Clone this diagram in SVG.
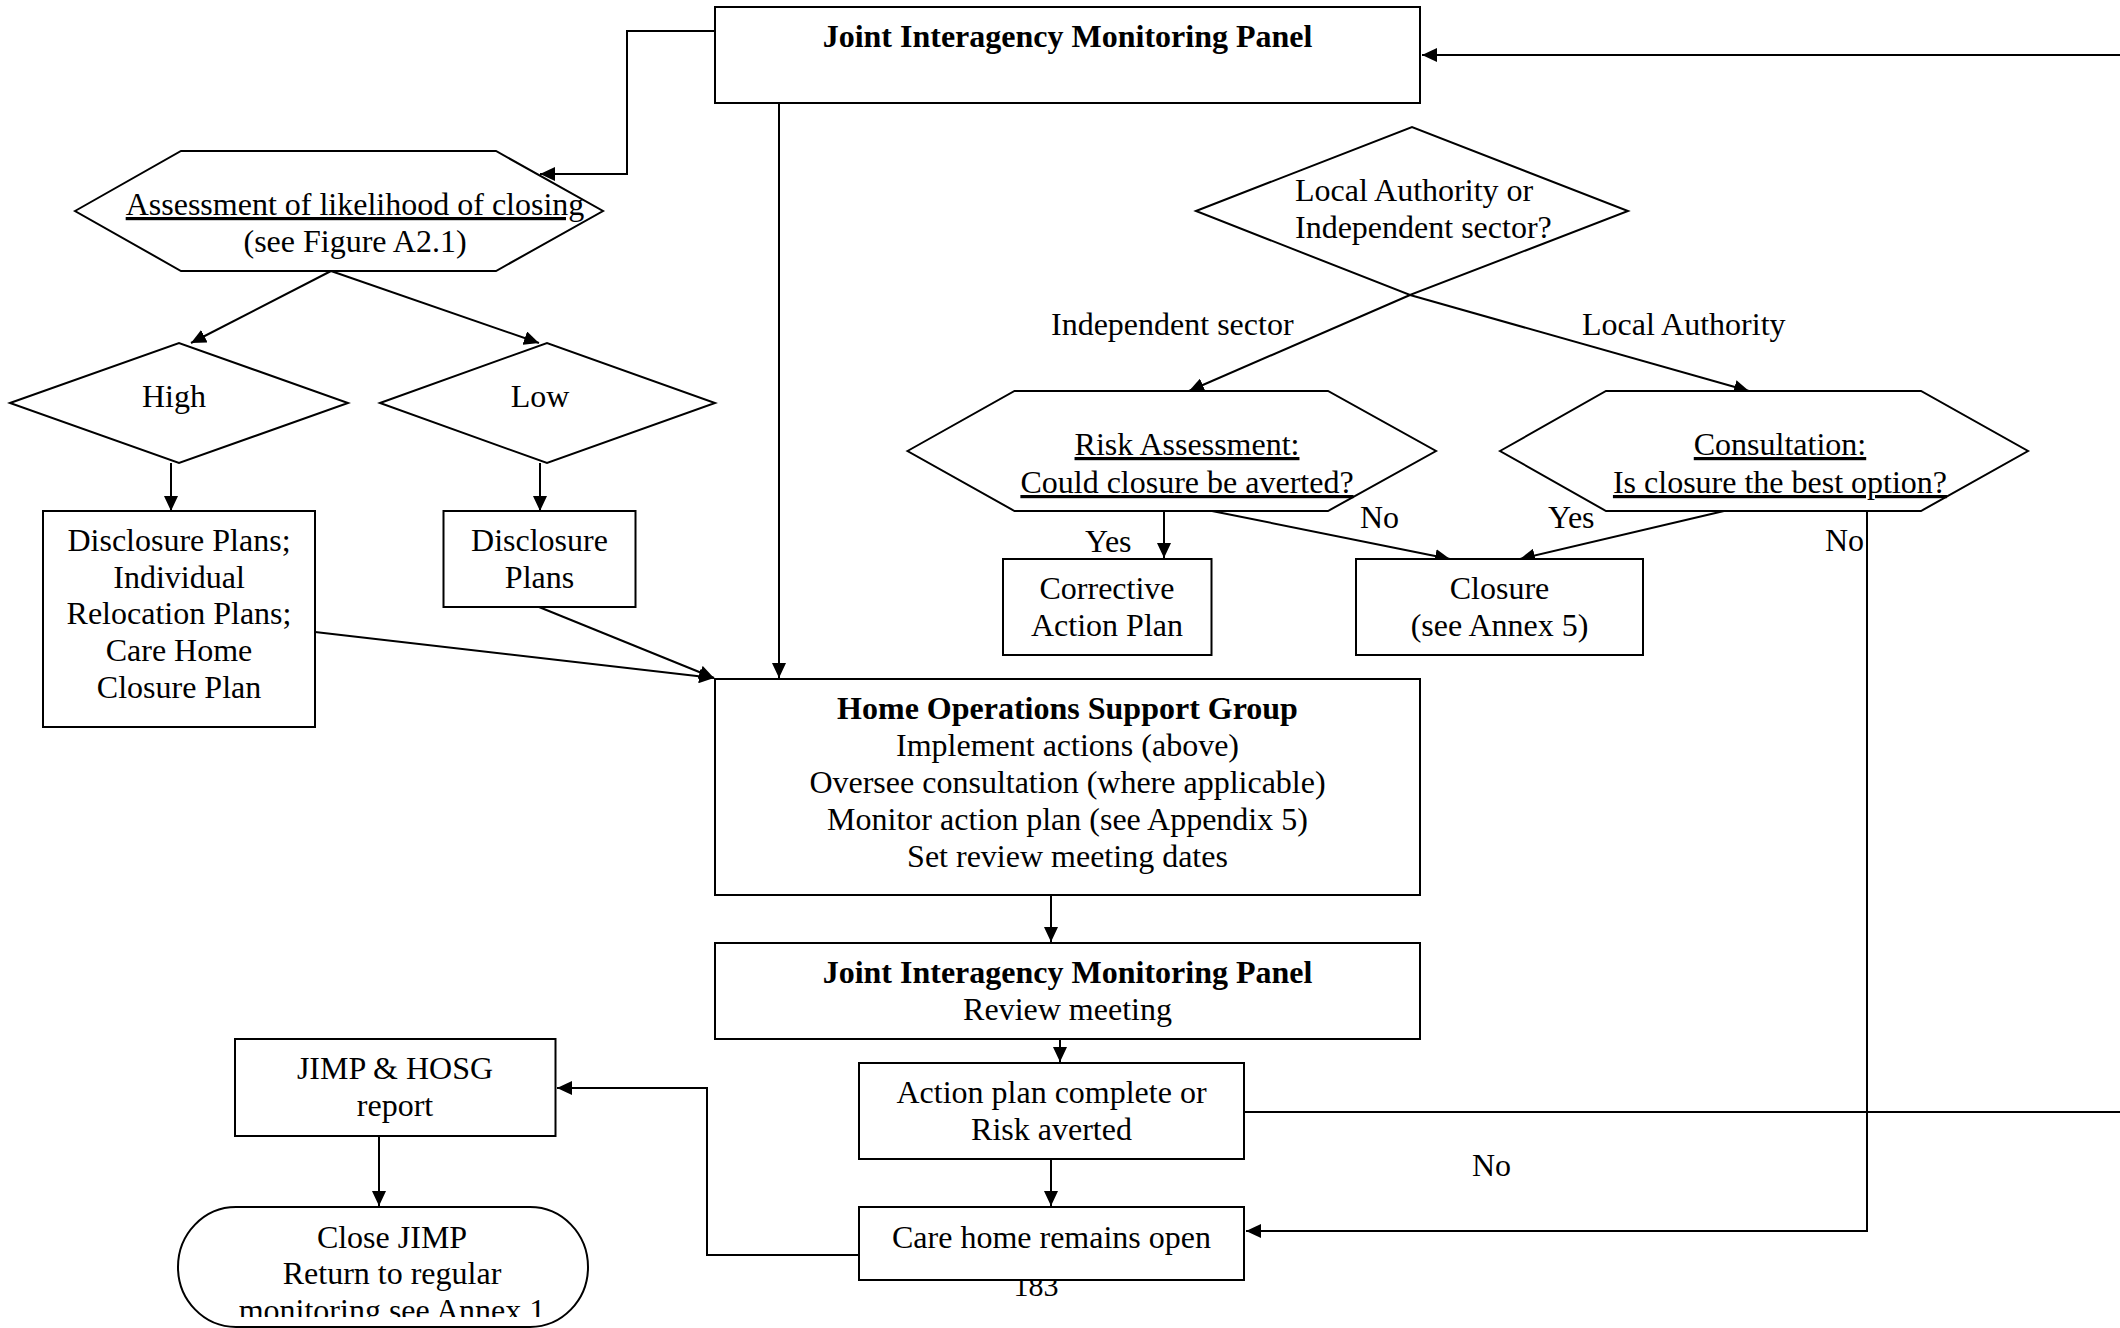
<svg xmlns="http://www.w3.org/2000/svg" width="2120" height="1328" viewBox="0 0 2120 1328">
  <style>
    text { font-family: "Liberation Serif", "Times New Roman", serif; font-size: 32px; fill: #000; }
    .c { text-anchor: middle; }
    .b { font-weight: bold; }
    .u { text-decoration: underline; }
    .shape { fill: #fff; stroke: #000; stroke-width: 2; }
    .link { fill: none; stroke: #000; stroke-width: 2; }
  </style>
  <defs>
    <marker id="arrow" markerUnits="userSpaceOnUse" markerWidth="16" markerHeight="14" refX="15" refY="7" orient="auto">
      <path d="M0,0 L15,7 L0,14 z" fill="#000"/>
    </marker>
    <clipPath id="terminal-clip">
      <rect x="170" y="1200" width="430" height="117"/>
    </clipPath>
  </defs>

  <rect width="2120" height="1328" fill="#fff"/>

  <!-- page number, partly hidden under the last box -->
  <text x="1036" y="1296" class="c" style="font-size:30px">183</text>

  <g id="connectors">
    <!-- loop back into the top panel from the right -->
    <path class="link" d="M2120,55 L1422,55" marker-end="url(#arrow)"/>
    <!-- top panel to likelihood assessment -->
    <path class="link" d="M715,31 L627,31 L627,174 L540,174" marker-end="url(#arrow)"/>
    <!-- top panel down to support group -->
    <path class="link" d="M779,103 L779,678" marker-end="url(#arrow)"/>
    <!-- assessment to High / Low -->
    <path class="link" d="M331,271 L191,343" marker-end="url(#arrow)"/>
    <path class="link" d="M331,271 L539,343" marker-end="url(#arrow)"/>
    <!-- High / Low to plans -->
    <path class="link" d="M171,463 L171,511" marker-end="url(#arrow)"/>
    <path class="link" d="M540,463 L540,511" marker-end="url(#arrow)"/>
    <!-- plans into support group -->
    <path class="link" d="M315,632 L714,678" marker-end="url(#arrow)"/>
    <path class="link" d="M539,607 L714,678" marker-end="url(#arrow)"/>
    <!-- sector decision -->
    <path class="link" d="M1410,295 L1189,391" marker-end="url(#arrow)"/>
    <path class="link" d="M1410,295 L1749,391" marker-end="url(#arrow)"/>
    <!-- risk assessment outcomes -->
    <path class="link" d="M1164,511 L1164,558" marker-end="url(#arrow)"/>
    <path class="link" d="M1212,511 L1450,559" marker-end="url(#arrow)"/>
    <!-- consultation outcomes -->
    <path class="link" d="M1724,511 L1520,559" marker-end="url(#arrow)"/>
    <path class="link" d="M1867,511 L1867,1231 L1246,1231" marker-end="url(#arrow)"/>
    <!-- support group to review meeting -->
    <path class="link" d="M1051,895 L1051,942" marker-end="url(#arrow)"/>
    <!-- review meeting to outcome -->
    <path class="link" d="M1060,1039 L1060,1062" marker-end="url(#arrow)"/>
    <!-- outcome: No, back round to the top -->
    <path class="link" d="M1244,1112 L2120,1112"/>
    <!-- outcome: yes, care home remains open -->
    <path class="link" d="M1051,1159 L1051,1206" marker-end="url(#arrow)"/>
    <!-- remains open to report -->
    <path class="link" d="M859,1255 L707,1255 L707,1088 L557,1088" marker-end="url(#arrow)"/>
    <!-- report to close -->
    <path class="link" d="M379,1136 L379,1206" marker-end="url(#arrow)"/>
  </g>

  <g id="jimp-top">
    <rect class="shape" x="715" y="7" width="705" height="96"/>
    <text x="1067.5" y="47" class="c b">Joint Interagency Monitoring Panel</text>
  </g>

  <g id="assessment">
    <polygon class="shape" points="75,211 181,151 496,151 603,211 496,271 181,271"/>
    <text x="355" y="215" class="c u">Assessment of likelihood of closing</text>
    <text x="355" y="252" class="c">(see Figure A2.1)</text>
  </g>

  <g id="high">
    <polygon class="shape" points="10,403 179,343 348,403 179,463"/>
    <text x="174" y="407" class="c">High</text>
  </g>

  <g id="low">
    <polygon class="shape" points="380,403 547,343 715,403 547,463"/>
    <text x="540" y="407" class="c">Low</text>
  </g>

  <g id="high-plans">
    <rect class="shape" x="43" y="511" width="272" height="216"/>
    <text x="179" y="551" class="c">Disclosure Plans;</text>
    <text x="179" y="588" class="c">Individual</text>
    <text x="179" y="624" class="c">Relocation Plans;</text>
    <text x="179" y="661" class="c">Care Home</text>
    <text x="179" y="698" class="c">Closure Plan</text>
  </g>

  <g id="low-plans">
    <rect class="shape" x="443.5" y="511" width="192" height="96"/>
    <text x="539.5" y="551" class="c">Disclosure</text>
    <text x="539.5" y="588" class="c">Plans</text>
  </g>

  <g id="sector">
    <polygon class="shape" points="1196,211 1412,127 1628,211 1410,295"/>
    <text x="1295" y="201">Local Authority or</text>
    <text x="1295" y="238">Independent sector?</text>
  </g>

  <g id="labels">
    <text x="1051" y="335">Independent sector</text>
    <text x="1582" y="335">Local Authority</text>
    <text x="1085" y="552">Yes</text>
    <text x="1360" y="528">No</text>
    <text x="1548" y="528">Yes</text>
    <text x="1825" y="551">No</text>
    <text x="1472" y="1176">No</text>
  </g>

  <g id="risk-assessment">
    <polygon class="shape" points="907.5,451 1014.5,391 1328,391 1436,451 1328,511 1014.5,511"/>
    <text x="1187" y="455" class="c u">Risk Assessment:</text>
    <text x="1187" y="493" class="c u">Could closure be averted?</text>
  </g>

  <g id="consultation">
    <polygon class="shape" points="1500,451 1606,391 1921,391 2028,451 1921,511 1606,511"/>
    <text x="1780" y="455" class="c u">Consultation:</text>
    <text x="1780" y="493" class="c u">Is closure the best option?</text>
  </g>

  <g id="corrective">
    <rect class="shape" x="1003" y="559" width="208.5" height="96"/>
    <text x="1107" y="599" class="c">Corrective</text>
    <text x="1107" y="636" class="c">Action Plan</text>
  </g>

  <g id="closure">
    <rect class="shape" x="1356" y="559" width="287" height="96"/>
    <text x="1499.5" y="599" class="c">Closure</text>
    <text x="1499.5" y="636" class="c">(see Annex 5)</text>
  </g>

  <g id="hosg">
    <rect class="shape" x="715" y="679" width="705" height="216"/>
    <text x="1067.5" y="719" class="c b">Home Operations Support Group</text>
    <text x="1067.5" y="756" class="c">Implement actions (above)</text>
    <text x="1067.5" y="793" class="c">Oversee consultation (where applicable)</text>
    <text x="1067.5" y="830" class="c">Monitor action plan (see Appendix 5)</text>
    <text x="1067.5" y="867" class="c">Set review meeting dates</text>
  </g>

  <g id="jimp-review">
    <rect class="shape" x="715" y="943" width="705" height="96"/>
    <text x="1067.5" y="983" class="c b">Joint Interagency Monitoring Panel</text>
    <text x="1067.5" y="1020" class="c">Review meeting</text>
  </g>

  <g id="action-plan">
    <rect class="shape" x="859" y="1063" width="385" height="96"/>
    <text x="1051.5" y="1103" class="c">Action plan complete or</text>
    <text x="1051.5" y="1140" class="c">Risk averted</text>
  </g>

  <g id="remains-open">
    <rect class="shape" x="859" y="1207" width="385" height="73"/>
    <text x="1051.5" y="1248" class="c">Care home remains open</text>
  </g>

  <g id="report">
    <rect class="shape" x="235" y="1039" width="320.5" height="97"/>
    <text x="395" y="1079" class="c">JIMP &amp; HOSG</text>
    <text x="395" y="1116" class="c">report</text>
  </g>

  <g id="close-jimp">
    <rect class="shape" x="178" y="1207" width="410" height="120" rx="58" ry="60"/>
    <g clip-path="url(#terminal-clip)">
      <text x="392" y="1248" class="c">Close JIMP</text>
      <text x="392" y="1284" class="c">Return to regular</text>
      <text x="392" y="1321" class="c">monitoring see Annex 1</text>
    </g>
  </g>
</svg>
